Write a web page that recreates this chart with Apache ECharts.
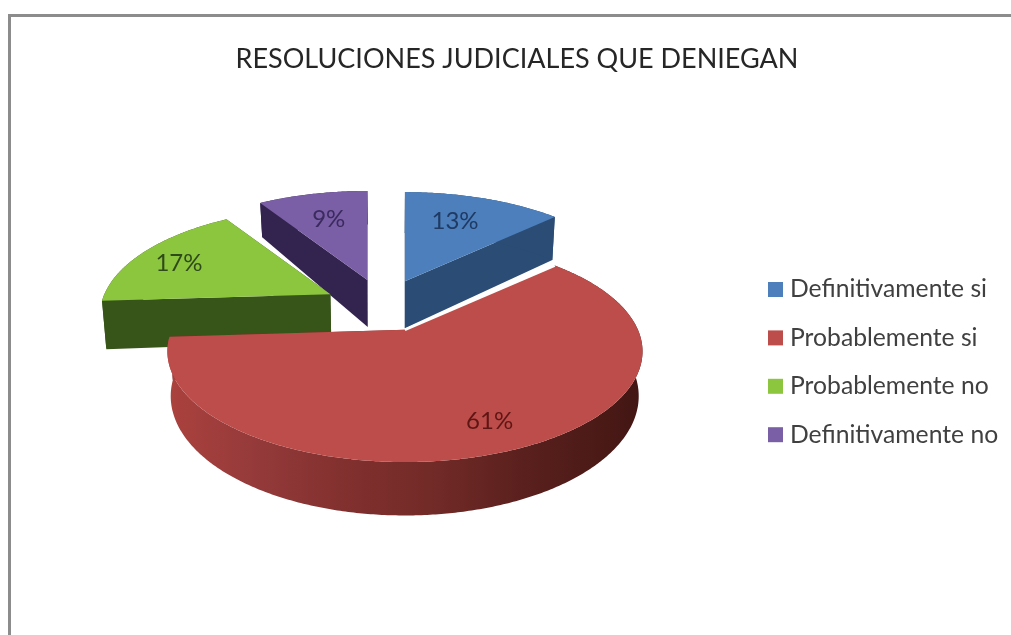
<!DOCTYPE html>
<html>
<head>
<meta charset="utf-8">
<title>Resoluciones judiciales que deniegan</title>
<script src="https://cdn.jsdelivr.net/npm/echarts@6/dist/echarts.min.js"></script>
<style>
  body {margin: 0; background: #fff;}
  #chart {width: 1011px; height: 635px;}
</style>
</head>
<body>
<div id="chart"></div>
<script>
const categories = ["Definitivamente si", "Probablemente si", "Probablemente no", "Definitivamente no"];
const shareValues = [13, 61, 17, 9];

const topColors = ["#4c7fbc", "#bd4d4a", "#8cc63f", "#7a5fa6"];
const wallColors = ["#2a4c75", "#7a2f2c", "#375419", "#33244f"];
const labelColors = ["#1f3a63", "#5e1614", "#2f4a1a", "#3b2a5e"];
const labelRadius = [0.68, 0.81, 0.8, 0.67];
const labelShift = [[-6, -1], [-3, -1], [-1, 4], [0, 0]];
// painting order, the big slice has to sit over the green wall
const drawOrder = [3, 0, 2, 1];

const FONT = "Lato";
const pie = {cx: 383.5, cy: 305, rx: 233, ry: 106.4, perspective: 0.195, explodeX: 54, explodeY: 26};
// per slice tweaks, the original's perspective is not quite the same for each piece
const wallDepth = [49, 43, 48, 40];
const sliceScale = [1, 1, 0.97, 1];
const sliceShift = [[0, 0], [0, 1], [-5, 1], [-1, 0]];

const total = shareValues.reduce((a, b) => a + b, 0);
const toRad = (v) => v / total * Math.PI * 2;

// disc position (angle clockwise from the back, radius 0..1) to an offset on screen
const project = (angle, r) => {
  const x = Math.sin(angle) * r;
  const y = -Math.cos(angle) * r;
  const s = 1 / (1 - pie.perspective * y);
  return {x: x * pie.rx * s, y: y * pie.ry * s, s: s};
};

const renderSlice = (index) => (params, api) => {
  const value = api.value(0);
  const before = shareValues.slice(0, index).reduce((a, b) => a + b, 0);
  const start = toRad(before);
  const end = start + toRad(value);
  const mid = (start + end) / 2;
  const scale = sliceScale[index];

  const apexX = pie.cx + Math.sin(mid) * pie.explodeX + sliceShift[index][0];
  const apexY = pie.cy - Math.cos(mid) * pie.explodeY + sliceShift[index][1];
  const drop = (p, h) => [p[0] + (pie.cx + 6 - p[0]) * 0.015, p[1] + h];

  const rimTop = [];
  const rimBottom = [];
  const steps = Math.ceil((end - start) / 0.01);
  for (let i = 0; i <= steps; i++) {
    const p = project(start + (end - start) * i / steps, 1);
    const top = [apexX + p.x * scale, apexY + p.y * scale];
    rimTop.push(top);
    rimBottom.push(drop(top, wallDepth[index] * p.s));
  }

  const apexTop = [apexX, apexY];
  const apexBottom = drop(apexTop, 47);
  const wall = wallColors[index];
  const rimFill = index === 1
    ? new echarts.graphic.LinearGradient(0, 0, 1, 0, [
      {offset: 0, color: "#ab423e"},
      {offset: 0.2, color: "#93393a"},
      {offset: 0.4, color: "#7f2f2d"},
      {offset: 0.55, color: "#732b28"},
      {offset: 0.75, color: "#5a201d"},
      {offset: 1, color: "#421613"},
    ])
    : wall;

  const children = [
    {type: "polygon", shape: {points: [apexTop, rimTop[rimTop.length - 1], rimBottom[rimBottom.length - 1], apexBottom]}, style: {fill: wall}},
    {type: "polygon", shape: {points: rimTop.concat(rimBottom.slice().reverse())}, style: {fill: rimFill}},
    {type: "polygon", shape: {points: [apexTop, rimTop[0], rimBottom[0], apexBottom]}, style: {fill: wall}},
    {type: "polygon", shape: {points: [apexTop].concat(rimTop)}, style: {fill: topColors[index]}},
  ];

  // thin white seam between the blue wall and the big slice
  if (index === 1) {
    children.push({type: "polyline", shape: {points: [apexTop, rimTop[0]]}, style: {stroke: "#fff", lineWidth: 2.5, fill: null}});
  }

  const lp = project(mid, labelRadius[index]);
  children.push({
    type: "text",
    x: apexX + lp.x * scale + labelShift[index][0],
    y: apexY + lp.y * scale + labelShift[index][1],
    style: {text: value + "%", fill: labelColors[index], font: "24px " + FONT, align: "center", verticalAlign: "middle"},
  });

  return {type: "group", children: children};
};

const chart = echarts.init(document.getElementById("chart"), null, {renderer: "canvas"});

chart.setOption({
  animation: false,
  backgroundColor: "#ffffff",
  title: {
    text: "RESOLUCIONES JUDICIALES QUE DENIEGAN",
    left: 512,
    top: 41,
    textAlign: "center",
    textStyle: {fontFamily: FONT, fontSize: 27, fontWeight: "normal", color: "#262626"},
  },
  legend: {
    orient: "vertical",
    left: 763,
    top: 272,
    icon: "rect",
    itemWidth: 15,
    itemHeight: 15,
    itemGap: 23.4,
    data: categories,
    textStyle: {fontFamily: FONT, fontSize: 24.7, color: "#404040", padding: [0, 0, 0, 2]},
  },
  graphic: [
    {type: "rect", silent: true, shape: {x: 8, y: 14, width: 1003, height: 3}, style: {fill: "#8c8c8c"}},
    {type: "rect", silent: true, shape: {x: 8, y: 14, width: 3, height: 621}, style: {fill: "#8c8c8c"}},
  ],
  series: drawOrder.map((i, order) => ({
    type: "custom",
    name: categories[i],
    coordinateSystem: "none",
    z: 2 + order,
    silent: true,
    itemStyle: {color: topColors[i]},
    data: [shareValues[i]],
    renderItem: renderSlice(i),
  })),
});
</script>
</body>
</html>
